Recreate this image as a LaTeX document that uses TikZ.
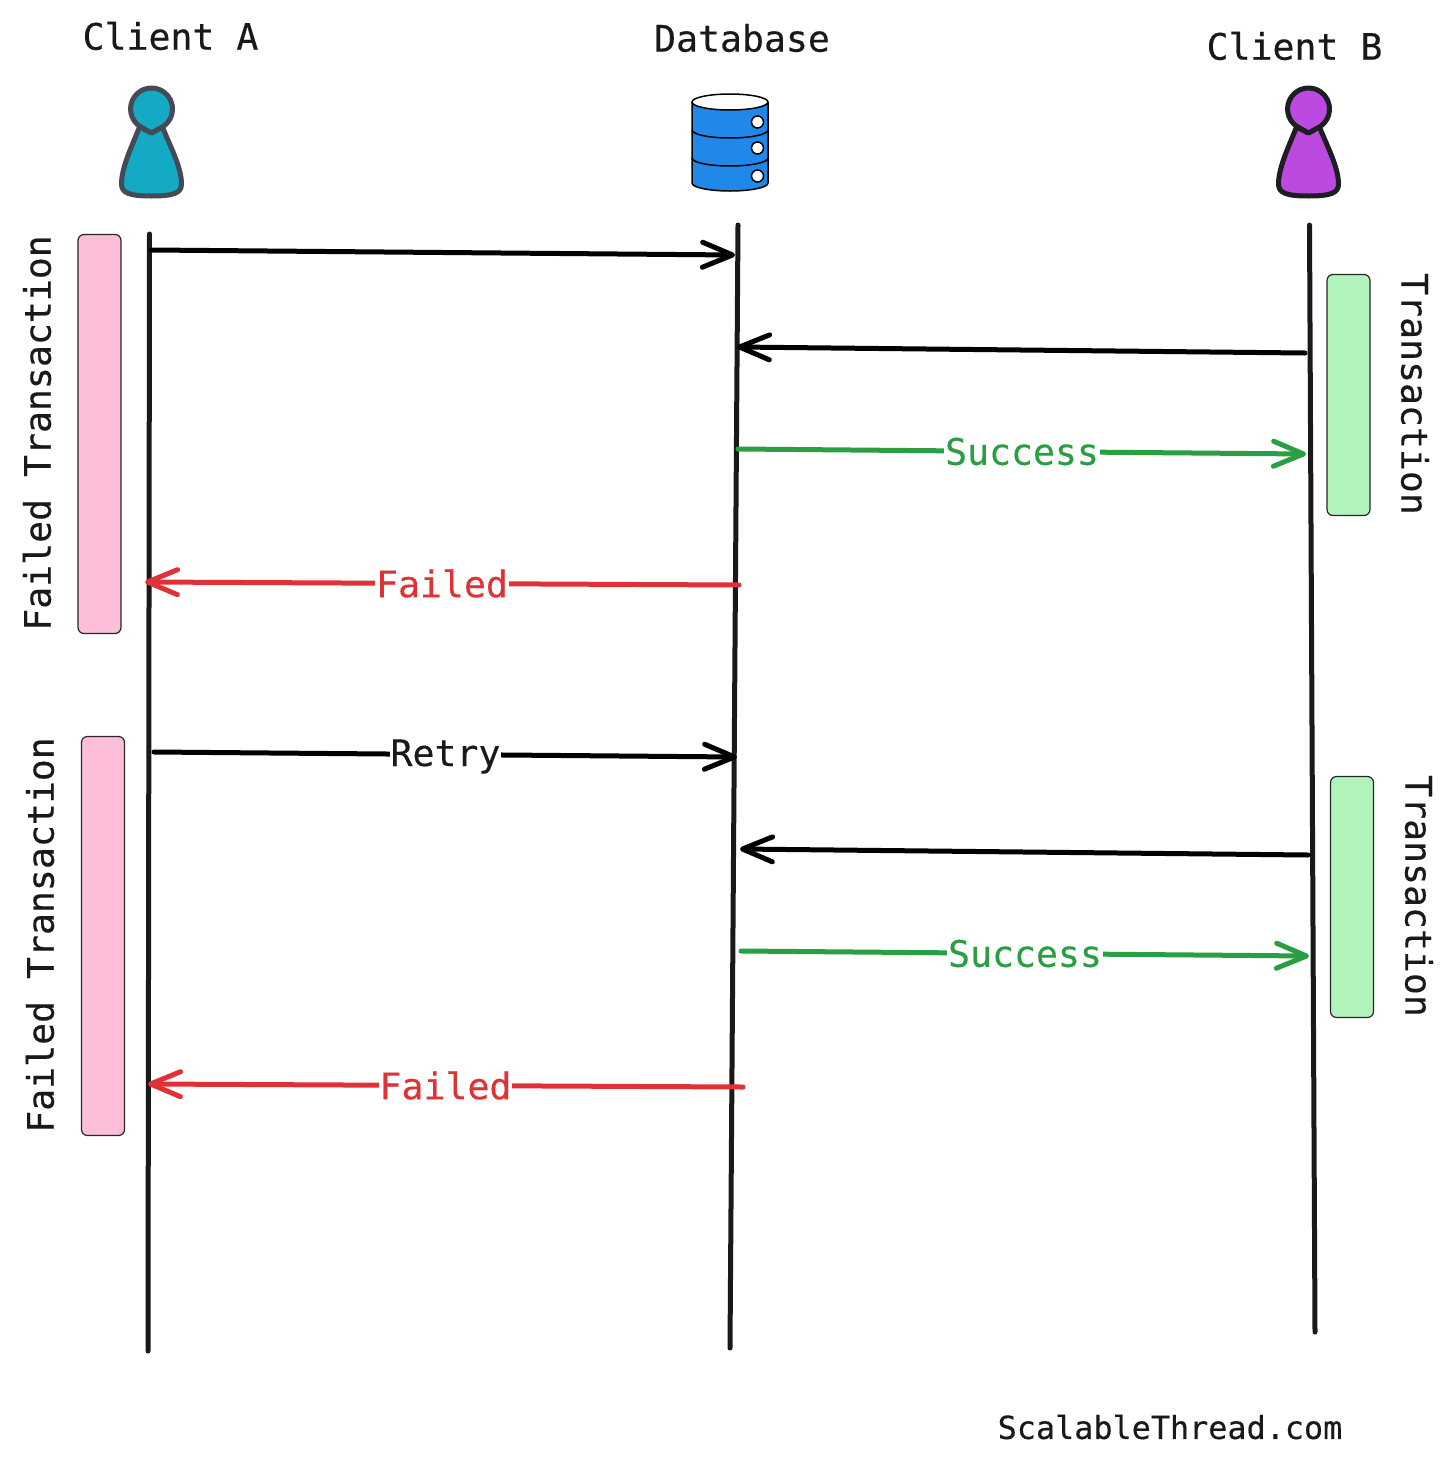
\documentclass[tikz,border=0pt]{standalone}
\usepackage{fontspec}
\setmonofont[FakeBold=0.3]{DejaVu Sans Mono}
\usetikzlibrary{arrows.meta}
\definecolor{tealfill}{HTML}{14A9C4}
\definecolor{tealedge}{HTML}{454B54}
\definecolor{purplefill}{HTML}{BC49E0}
\definecolor{purpleedge}{HTML}{1E1E22}
\definecolor{dbblue}{HTML}{2088E8}
\definecolor{pinkbar}{HTML}{FDBED9}
\definecolor{greenbar}{HTML}{B2F4BC}
\definecolor{okgreen}{HTML}{2A9E43}
\definecolor{badred}{HTML}{DF3236}

\begin{document}
\begin{tikzpicture}[
    x=1pt, y=-1pt,
    lifeline/.style={line width=5pt, draw=black!90, line cap=round},
    msg/.style={line width=5pt, line cap=round, -{Straight Barb[length=30pt,width=25pt,line width=5pt,round]}},
    title/.style={font=\ttfamily\fontsize{36.5}{40}\selectfont, text=black!90, inner sep=0pt},
    sidelabel/.style={font=\ttfamily\fontsize{36.5}{40}\selectfont, text=black!90, inner sep=0pt},
    msglabel/.style={font=\ttfamily\fontsize{36.5}{40}\selectfont, fill=white, inner sep=1pt},
    pinkbox/.style={draw=black!85, line width=1.2pt, fill=pinkbar, rounded corners=6pt, minimum width=43pt, minimum height=399pt, inner sep=0pt},
    greenbox/.style={draw=black!85, line width=1.2pt, fill=greenbar, rounded corners=6pt, minimum width=43pt, minimum height=241pt, inner sep=0pt},
    person/.pic={
        \path[pic actions, line width=5pt, line join=round]
            (-12,18) -- (0,24) -- (11,18)
            .. controls (18,36) and (30,58) .. (30,75)
            .. controls (30,84) and (22,87) .. (0,87)
            .. controls (-22,87) and (-30,84) .. (-30,75)
            .. controls (-30,58) and (-19,36) .. (-12,18) -- cycle;
        \path[pic actions, line width=5pt, line join=round] (-12,17.2) arc[start angle=125, end angle=415, radius=21] -- (0,24) -- cycle;
    }
]
\useasboundingbox (0,0) rectangle (1456,1459);

% headers
\node[title] (clientA) at (170.5,36) {Client A};
\node[title] (database) at (742,38) {Database};
\node[title] (clientB) at (1294.5,46) {Client B};

% icons
\pic[draw=tealedge, fill=tealfill] (iconA) at (151.5,109) {person};
\pic[draw=purpleedge, fill=purplefill] (iconB) at (1308.5,109) {person};

\fill[dbblue] (692,102) -- (692,183) arc[start angle=180, end angle=0, x radius=38, y radius=8] -- (768,102) -- cycle;
\draw[line width=1.5pt] (692,102) -- (692,183) arc[start angle=180, end angle=0, x radius=38, y radius=8] -- (768,102);
\draw[line width=1.5pt, fill=white] (730,102) ellipse[x radius=38, y radius=8];
\draw[line width=1.5pt] (692,130) arc[start angle=180, end angle=0, x radius=38, y radius=8];
\draw[line width=1.5pt] (692,158) arc[start angle=180, end angle=0, x radius=38, y radius=8];
\foreach \dy in {122,148,176}
    \draw[line width=1.5pt, fill=white] (757.5,\dy) circle[radius=6pt];

% lifelines
\coordinate (a0) at (149.5,234);
\coordinate (a1) at (148,1351);
\coordinate (d0) at (738,225);
\coordinate (d1) at (730,1348);
\coordinate (b0) at (1309.5,225);
\coordinate (b1) at (1315,1332);
\draw[lifeline] (a0) -- (a1);
\draw[lifeline] (d0) -- (d1);
\draw[lifeline] (b0) -- (b1);

% side bars
\node[pinkbox] (failA) at (99.5,434) {};
\node[pinkbox] (failB) at (103,936) {};
\node[greenbox] (okA) at (1348.5,395) {};
\node[greenbox] (okB) at (1352,897) {};

\node[sidelabel, rotate=90] (failTextA) at (37,433) {Failed Transaction};
\node[sidelabel, rotate=90] (failTextB) at (40,935) {Failed Transaction};
\node[sidelabel, rotate=-90] (okTextA) at (1415,394) {Transaction};
\node[sidelabel, rotate=-90] (okTextB) at (1419,896) {Transaction};

% first round
\coordinate (m1s) at (151,250);
\coordinate (m1e) at (735,255);
\coordinate (m2s) at (1305,353);
\coordinate (m2e) at (737,347);
\coordinate (m3s) at (738,449);
\coordinate (m3e) at (1306,454);
\coordinate (m4s) at (739,585);
\coordinate (m4e) at (145,582);
\draw[msg] (m1s) -- (m1e);
\draw[msg] (m2s) -- (m2e);
\draw[msg, okgreen] (m3s) -- node[msglabel, text=okgreen] (lblS1) {Success} (m3e);
\draw[msg, badred] (m4s) -- node[msglabel, text=badred] (lblF1) {Failed} (m4e);

% second round
\coordinate (m5s) at (154,752);
\coordinate (m5e) at (737,757);
\coordinate (m6s) at (1308,855);
\coordinate (m6e) at (740,849);
\coordinate (m7s) at (741,951);
\coordinate (m7e) at (1309,956);
\coordinate (m8s) at (743,1087);
\coordinate (m8e) at (148,1084);
\draw[msg] (m5s) -- node[msglabel, text=black!90, yshift=-2pt] (lblR) {Retry} (m5e);
\draw[msg] (m6s) -- (m6e);
\draw[msg, okgreen] (m7s) -- node[msglabel, text=okgreen] (lblS2) {Success} (m7e);
\draw[msg, badred] (m8s) -- node[msglabel, text=badred] (lblF2) {Failed} (m8e);

\node[font=\ttfamily\fontsize{31.8}{36}\selectfont, text=black!90, inner sep=0pt] (site) at (1170,1427) {ScalableThread.com};

\end{tikzpicture}
\end{document}
